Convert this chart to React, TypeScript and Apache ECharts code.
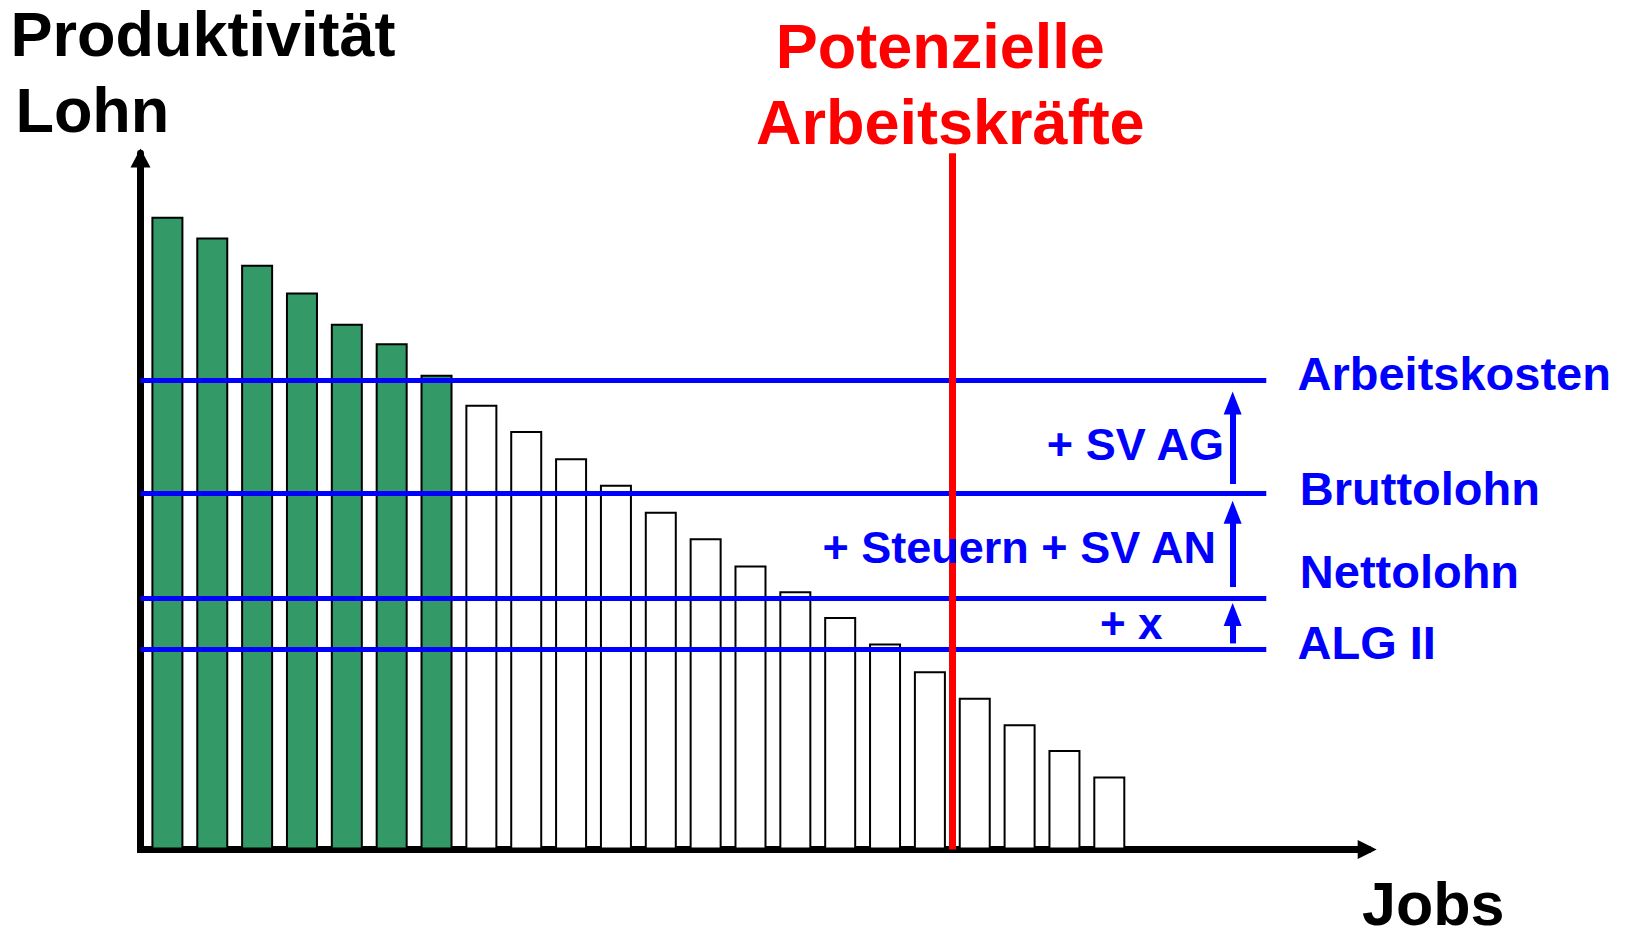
import React, { useEffect, useRef } from "react";
import * as echarts from "echarts";

// ---- data ----
const jobs = [1, 2, 3, 4, 5, 6, 7, 8, 9, 10, 11, 12, 13, 14, 15, 16, 17, 18, 19, 20, 21, 22];
const productivity = [
  90.9, 87.9, 84.0, 80.0, 75.5, 72.7, 68.2, 63.9, 60.1, 56.2, 52.4,
  48.5, 44.7, 40.8, 37.1, 33.4, 29.6, 25.6, 21.8, 18.0, 14.3, 10.5,
];
const wageLevelNames = ["Arbeitskosten", "Bruttolohn", "Nettolohn", "ALG II"];
const wageLevels = [67.4, 51.1, 36.1, 28.8];
const stepNames = ["+ SV AG", "+ Steuern + SV AN", "+ x"];
const stepArrowFrom = [52.5, 37.7, 29.6];
const stepArrowTo = [65.8, 50.1, 35.4];
const stepArrowJob = 24.75;
const wageLineEndJob = 25.5;
const potentialWorkersJob = 18.5;
const xMin = 0.4;
const xMax = 27.75;
const yMin = 0;
const yMax = 100;

const FONT = "'Liberation Sans', Arial, Helvetica, sans-serif";
const BLUE = "#0000FF";
const RED = "#FF0000";
const GREEN = "#339966";

export default function App() {
  const ref = useRef<HTMLDivElement>(null);

  useEffect(() => {
    document.body.style.margin = "0";
    document.body.style.overflow = "hidden";
    const chart = echarts.init(ref.current as HTMLDivElement, null, { renderer: "svg" });

    const gridTop = 153.3;
    const gridBottomY = 849.5;
    const pxPerUnit = (gridBottomY - gridTop) / (yMax - yMin);
    const headW = 18;
    const headL = 23;

    const markLineData: any[] = [];
    wageLevels.forEach((v) => {
      markLineData.push([
        { coord: [xMin, v], lineStyle: { color: BLUE, width: 5, type: "solid" } },
        { coord: [wageLineEndJob, v] },
      ]);
    });
    stepArrowFrom.forEach((from, i) => {
      markLineData.push([
        { coord: [stepArrowJob, from], symbol: "none", lineStyle: { color: BLUE, width: 6, type: "solid" } },
        {
          coord: [stepArrowJob, stepArrowTo[i] - headL / 2 / pxPerUnit],
          symbol: "triangle",
          symbolSize: [headW, headL],
        },
      ]);
    });
    markLineData.push([
      { coord: [potentialWorkersJob, yMin], lineStyle: { color: RED, width: 7, type: "solid" } },
      { coord: [potentialWorkersJob, yMax] },
    ]);

    const txt = (
      text: string,
      x: number,
      y: number,
      size: number,
      color: string,
      align: "left" | "right" = "left"
    ) => ({
      type: "text",
      x,
      y,
      z: 100,
      silent: true,
      style: {
        text,
        fill: color,
        font: `bold ${size}px ${FONT}`,
        align,
        verticalAlign: "middle",
      },
    });

    const labelPos = [
      { x: 1297.5, y: 373.7 },
      { x: 1299.8, y: 488.7 },
      { x: 1299.8, y: 571.7 },
      { x: 1297.5, y: 642.3 },
    ];
    const stepPos = [
      { x: 1224, y: 444, size: 45 },
      { x: 1216, y: 547.8, size: 45 },
      { x: 1162.5, y: 623.5, size: 44 },
    ];

    const option: any = {
      animation: false,
      backgroundColor: "#ffffff",
      grid: {
        left: 140.5,
        top: gridTop,
        right: 1632 - 1367.2,
        bottom: 937 - gridBottomY,
        containLabel: false,
      },
      xAxis: {
        type: "value",
        min: xMin,
        max: xMax,
        axisLine: {
          show: true,
          onZero: false,
          symbol: ["none", "triangle"],
          symbolSize: [19, 19],
          lineStyle: { color: "#000000", width: 7, cap: "square" },
        },
        axisTick: { show: false },
        axisLabel: { show: false },
        splitLine: { show: false },
      },
      yAxis: {
        type: "value",
        min: yMin,
        max: yMax,
        axisLine: {
          show: true,
          onZero: false,
          symbol: ["none", "triangle"],
          symbolSize: [20, 19],
          symbolOffset: [0, -4.7],
          lineStyle: { color: "#000000", width: 7 },
        },
        axisTick: { show: false },
        axisLabel: { show: false },
        splitLine: { show: false },
      },
      series: [
        {
          type: "bar",
          barWidth: 32,
          silent: true,
          data: jobs.map((j, i) => ({
            value: [j, productivity[i]],
            itemStyle: {
              color: productivity[i] >= wageLevels[0] ? GREEN : "#ffffff",
              borderColor: "#000000",
              borderWidth: 2,
            },
          })),
          markLine: {
            silent: true,
            symbol: ["none", "none"],
            label: { show: false },
            emphasis: { disabled: true },
            data: markLineData,
          },
        },
      ],
      graphic: [
        txt("Produktivität", 10.5, 34.2, 63, "#000000"),
        txt("Lohn", 15.4, 109.5, 63, "#000000"),
        txt("Jobs", 1362, 904, 61, "#000000"),
        txt("Potenzielle", 775.8, 46, 63, RED),
        txt("Arbeitskräfte", 756, 122.3, 63, RED),
        ...wageLevelNames.map((n, i) => txt(n, labelPos[i].x, labelPos[i].y, 47, BLUE)),
        ...stepNames.map((n, i) => txt(n, stepPos[i].x, stepPos[i].y, stepPos[i].size, BLUE, "right")),
      ],
    };

    chart.setOption(option);
    return () => {
      chart.dispose();
    };
  }, []);

  return (
    <div
      ref={ref}
      style={{ position: "fixed", left: 0, top: 0, width: 1632, height: 937, background: "#fff" }}
    />
  );
}
